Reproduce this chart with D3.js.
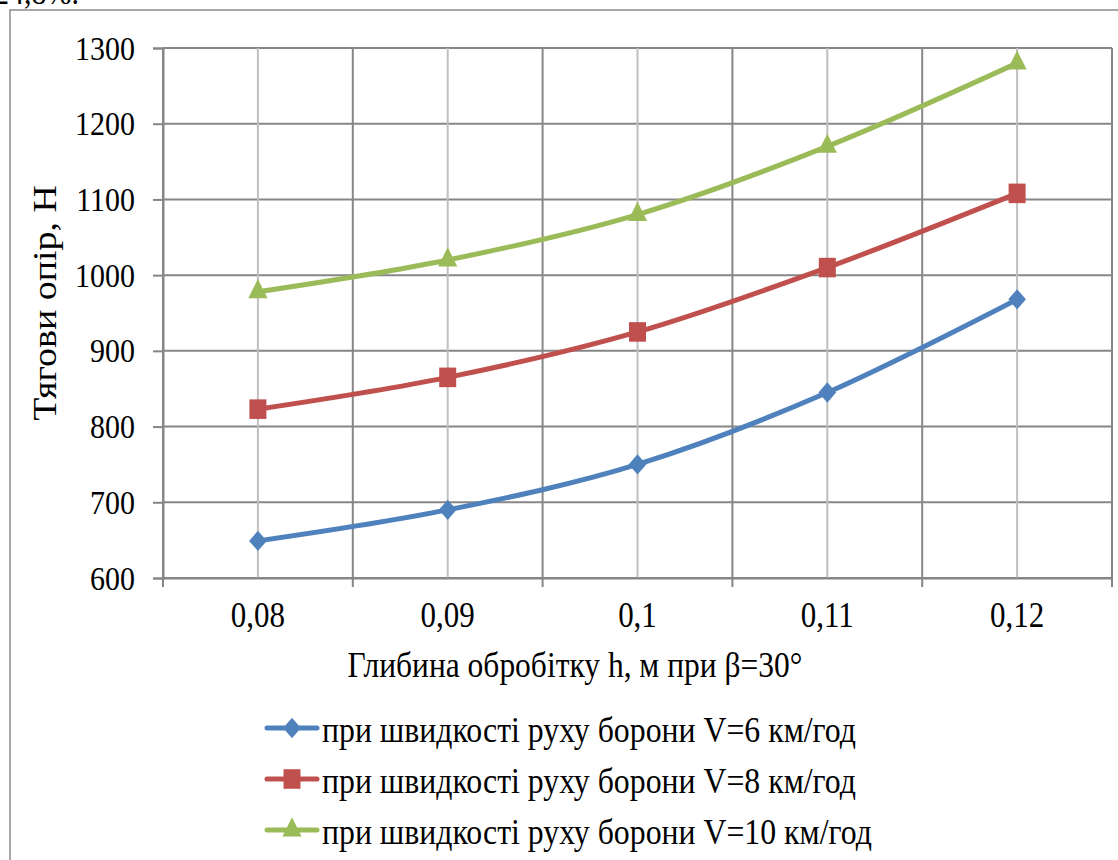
<!DOCTYPE html>
<html>
<head>
<meta charset="utf-8">
<script src="https://cdn.jsdelivr.net/npm/d3@7"></script>
<style>
  body { margin: 0; background: #fff; }
  svg { display: block; }
</style>
</head>
<body>
<svg width="1118" height="860"></svg>
<script>
// data
var categories = ["0,08", "0,09", "0,1", "0,11", "0,12"];
var yTicks = [600, 700, 800, 900, 1000, 1100, 1200, 1300];
var v6 = [649, 690, 750, 845, 968];
var v8 = [823, 865, 925, 1010, 1108];
var v10 = [978, 1020, 1080, 1170, 1280];
var seriesNames = [
  "при швидкості руху борони V=6 км/год",
  "при швидкості руху борони V=8 км/год",
  "при швидкості руху борони V=10 км/год"
];
var colors = ["#4F81BD", "#C0504D", "#9BBB59"];
var shapes = ["diamond", "square", "triangle"];

var serif = "'Liberation Serif'";
var stretch = 1.15; // the picture is a bit taller than wide

var series = [v6, v8, v10].map(function(vals, i) {
  return { name: seriesNames[i], values: vals, color: colors[i], shape: shapes[i] };
});

function markerPath(shape) {
  if (shape == "diamond") return d3.symbol().type(d3.symbolSquare).size(156)();
  if (shape == "square") return d3.symbol().type(d3.symbolSquare).size(289)();
  return d3.symbol().type(d3.symbolTriangle).size(160)();
}
function markerTransform(shape, px, py) {
  var t = "translate(" + px + "," + py + ") scale(1," + stretch + ")";
  if (shape == "diamond") t += " rotate(45)";
  return t;
}

var svg = d3.select("svg");
var plotL = 163, plotR = 1112, plotT = 48, plotB = 578;

// text cut off at the top of the page
svg.append("text").attr("transform", "translate(-6,4) scale(1," + stretch + ")")
  .style("font-family", serif).attr("font-size", "30px").text("24,8%.");

// outer chart frame
svg.append("rect").attr("x", 10).attr("y", 10).attr("width", 1130).attr("height", 900)
  .attr("fill", "none").attr("stroke", "#8c8c8c").attr("stroke-width", 1.5);

var x = d3.scaleBand().domain(categories).range([plotL, plotR]).padding(0);
var y = d3.scaleLinear().domain([600, 1300]).range([plotB, plotT]);

// horizontal grid
svg.append("g").selectAll("line").data(yTicks).enter().append("line")
  .attr("x1", plotL).attr("x2", plotR)
  .attr("y1", function(d) { return y(d); }).attr("y2", function(d) { return y(d); })
  .attr("stroke", "#868686").attr("stroke-width", 2);

// vertical grid: minor at centres, major at boundaries
svg.append("g").selectAll("line").data(categories).enter().append("line")
  .attr("x1", function(d) { return x(d) + x.bandwidth() / 2; })
  .attr("x2", function(d) { return x(d) + x.bandwidth() / 2; })
  .attr("y1", plotT).attr("y2", plotB)
  .attr("stroke", "#bfbfbf").attr("stroke-width", 2);

var bounds = categories.map(function(d) { return x(d); }).concat([plotR]);
svg.append("g").selectAll("line").data(bounds).enter().append("line")
  .attr("x1", function(d) { return d; }).attr("x2", function(d) { return d; })
  .attr("y1", plotT).attr("y2", plotB + 9)
  .attr("stroke", "#868686").attr("stroke-width", 2);

// axes
var yAxis = svg.append("g")
  .attr("transform", "translate(" + plotL + ",0)")
  .call(d3.axisLeft(y).tickValues(yTicks).tickFormat(d3.format("d")).tickSize(10).tickPadding(18));
yAxis.attr("font-family", null);
yAxis.select(".domain").attr("stroke", "#868686").attr("stroke-width", 2);
yAxis.selectAll(".tick line").attr("stroke", "#868686").attr("stroke-width", 2);
yAxis.selectAll("text").style("font-family", serif).attr("font-size", "30px").attr("fill", "#000")
  .attr("transform", "scale(1," + stretch + ")");

var xAxis = svg.append("g")
  .attr("transform", "translate(0," + plotB + ")")
  .call(d3.axisBottom(x).tickSize(0).tickPadding(24));
xAxis.attr("font-family", null);
xAxis.select(".domain").attr("stroke", "#868686").attr("stroke-width", 2);
xAxis.selectAll("text").style("font-family", serif).attr("font-size", "31px").attr("fill", "#000")
  .attr("y", 42.3).attr("dy", null)
  .attr("transform", "scale(1," + stretch + ")");

// axis titles
svg.append("text").attr("transform", "translate(575,677) scale(1," + stretch + ")")
  .attr("text-anchor", "middle")
  .style("font-family", serif).attr("font-size", "31.5px").text("Глибина обробітку h, м при β=30°");

svg.append("text").attr("transform", "translate(56,303) rotate(-90) scale(" + stretch + ",1)")
  .attr("text-anchor", "middle").style("font-family", serif).attr("font-size", "33px")
  .text("Тягови опір, Н");

// lines
var line = d3.line()
  .x(function(d, i) { return x(categories[i]) + x.bandwidth() / 2; })
  .y(function(d) { return y(d); })
  .curve(d3.curveCardinal.tension(0));

series.forEach(function(s) {
  var g = svg.append("g");
  g.append("path").datum(s.values).attr("d", line)
    .attr("fill", "none").attr("stroke", s.color).attr("stroke-width", 5)
    .attr("stroke-linecap", "round");
  g.selectAll("path.mark").data(s.values).enter().append("path")
    .attr("class", "mark")
    .attr("d", markerPath(s.shape))
    .attr("transform", function(d, i) {
      return markerTransform(s.shape, x(categories[i]) + x.bandwidth() / 2, y(d));
    })
    .attr("fill", s.color);
});

// legend
var rowY = [728, 779, 830];
var leg = svg.append("g");
series.forEach(function(s, i) {
  var r = leg.append("g").attr("transform", "translate(0," + rowY[i] + ")");
  r.append("line").attr("x1", 267).attr("x2", 317).attr("y1", 0).attr("y2", 0)
    .attr("stroke", s.color).attr("stroke-width", 5).attr("stroke-linecap", "round");
  r.append("path").attr("d", markerPath(s.shape))
    .attr("transform", markerTransform(s.shape, 292, 0)).attr("fill", s.color);
  r.append("text").attr("transform", "translate(322,14) scale(1," + stretch + ")")
    .style("font-family", serif).attr("font-size", "31.8px").text(s.name);
});
</script>
</body>
</html>
